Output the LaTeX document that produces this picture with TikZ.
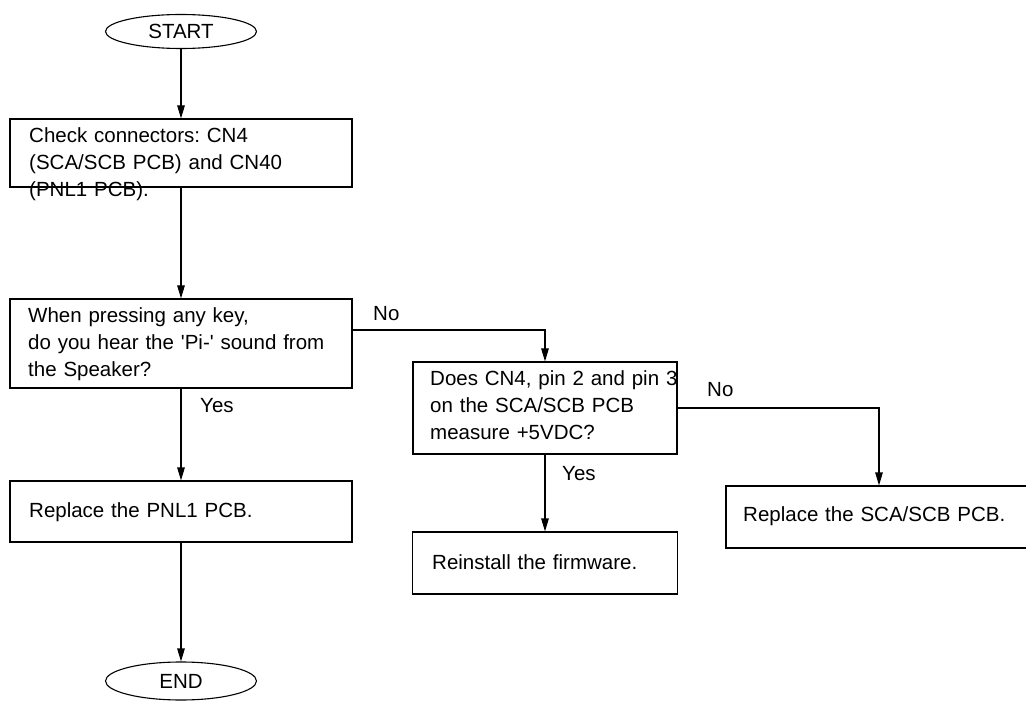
\documentclass[tikz,border=0pt]{standalone}
\usepackage{fontspec}
\setmainfont{Liberation Sans}
\usetikzlibrary{shapes.geometric,arrows.meta}
\frenchspacing
\tikzset{
  every node/.style={font=\fontsize{20.5}{26.7}\selectfont},
  terminal/.style={draw, ellipse, line width=1.1pt, minimum width=151pt, minimum height=34pt, inner sep=0pt},
  stepbox/.style={draw, rectangle, line width=1.1pt, inner sep=0pt},
  boxtext/.style={anchor=base west, inner sep=0pt, align=left, text width=400pt},
  lbl/.style={anchor=base west, inner sep=0pt},
  flow/.style={line width=1.1pt, -{Triangle[length=13pt,width=7.5pt]}}
}
\begin{document}
\begin{tikzpicture}[x=1pt,y=-1pt]
\useasboundingbox (0,0) rectangle (1026,703);
% terminals
\node[terminal] (start) at (181,31.5) {START};
\node[terminal, minimum height=38pt] (end) at (181,681) {END};
% boxes
\node[stepbox, minimum width=342pt, minimum height=68pt] (box1) at (181,153) {};
\node[stepbox, minimum width=342pt, minimum height=89pt] (box2) at (181,343.5) {};
\node[stepbox, minimum width=342pt, minimum height=61pt] (box6) at (181,511.5) {};
\node[stepbox, minimum width=264pt, minimum height=92pt] (box3) at (545,408) {};
\node[stepbox, minimum width=265pt, minimum height=62pt] (box5) at (545,563) {};
\node[stepbox, minimum width=306pt, minimum height=62pt] (box4) at (879,517) {};
% texts
\node[boxtext] (t1) at (29,143) {Check connectors: CN4\\(SCA/SCB PCB) and CN40\\(PNL1 PCB).};
\node[boxtext] (t2) at (28,323) {When pressing any key,\\do you hear the \textquotesingle Pi-\textquotesingle\ sound from\\the Speaker?};
\node[boxtext] (t6) at (29,517) {Replace the PNL1 PCB.};
\node[boxtext] (t3) at (430,386) {Does CN4, pin 2 and pin 3\\on the SCA/SCB PCB\\measure +5VDC?};
\node[boxtext] (t5) at (432,569) {Reinstall the firmware.};
\node[boxtext] (t4) at (743,521) {Replace the SCA/SCB PCB.};
% labels
\node[lbl] (no1) at (373,321) {No};
\node[lbl] (no2) at (707,397) {No};
\node[lbl] (yes1) at (200,413) {Yes};
\node[lbl] (yes2) at (562,480) {Yes};
% connectors
\coordinate (c1) at (545,330);
\draw[flow] (start) -- (box1);
\draw[flow] (box1) -- (box2);
\draw[flow] (box2) -- (box6);
\draw[flow] (box6) -- (end);
\draw[flow] (box2.east |- c1) -- (c1) -- (box3.north);
\draw[flow] (box3.east) -| (box4.north);
\draw[flow] (box3) -- (box5);
\end{tikzpicture}
\end{document}
